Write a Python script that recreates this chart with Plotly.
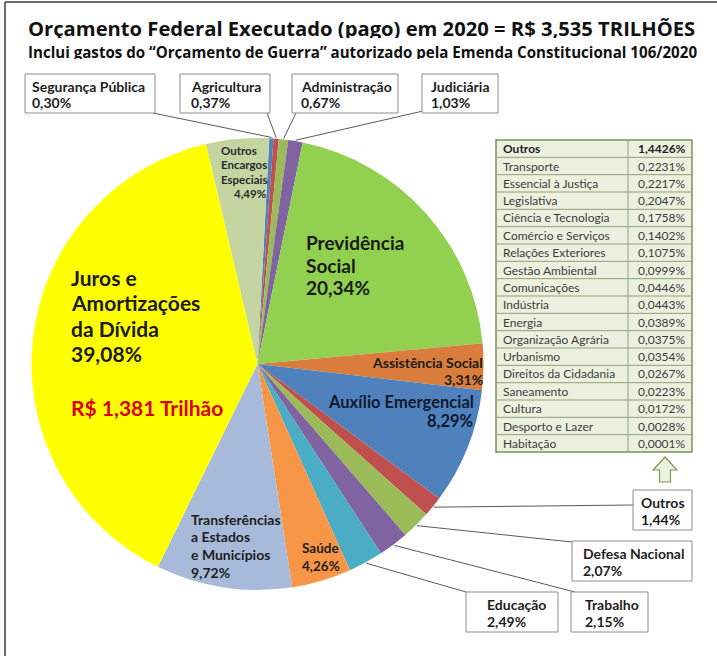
import math
import plotly.graph_objects as go

W, H = 717, 656
FONT = "Lato"
TITLE_FONT = "Open Sans"

# Federal budget 2020, share of total paid (%), clockwise from the top
categorias = [
    "Segurança Pública", "Agricultura", "Administração", "Judiciária",
    "Previdência Social", "Assistência Social", "Auxílio Emergencial", "Outros",
    "Defesa Nacional", "Trabalho", "Educação", "Saúde",
    "Transferências a Estados e Municípios", "Juros e Amortizações da Dívida",
    "Outros Encargos Especiais",
]
percentuais = [0.30, 0.37, 0.67, 1.03, 20.34, 3.31, 8.29, 1.44,
               2.07, 2.15, 2.49, 4.26, 9.72, 39.08, 4.49]
cores = ["#4F81BD", "#C0504D", "#9BBB59", "#8064A2", "#92D050", "#DA7D3C",
         "#4F81BD", "#C0504D", "#9BBB59", "#8064A2", "#4BACC6", "#F79646",
         "#A7BADA", "#FFFF00", "#C4D5A2"]

# Breakdown of the "Outros" group (%)
outros_total = 1.4426
outros_nomes = ["Transporte", "Essencial à Justiça", "Legislativa",
                "Ciência e Tecnologia", "Comércio e Serviços", "Relações Exteriores",
                "Gestão Ambiental", "Comunicações", "Indústria", "Energia",
                "Organização Agrária", "Urbanismo", "Direitos da Cidadania",
                "Saneamento", "Cultura", "Desporto e Lazer", "Habitação"]
outros_pct = [0.2231, 0.2217, 0.2047, 0.1758, 0.1402, 0.1075, 0.0999, 0.0446,
              0.0443, 0.0389, 0.0375, 0.0354, 0.0267, 0.0223, 0.0172, 0.0028, 0.0001]

total_orcamento = "3,535"
juros_valor = "1,381"


def br(v, d=2):
    return f"{v:.{d}f}".replace(".", ",") + "%"


def px(x):
    return x / W


def py(y):
    return 1 - y / H


# pie geometry (pixels)
CX, CY, R = 257.5, 364.0, 226.0
ROT = 3.0

fig = go.Figure()
fig.add_trace(go.Pie(
    labels=categorias, values=percentuais, sort=False, direction="clockwise",
    rotation=ROT, marker=dict(colors=cores, line=dict(width=0)),
    textinfo="none", hoverinfo="skip", showlegend=False,
    domain=dict(x=[px(CX - R), px(CX + R)], y=[py(CY + R), py(CY - R)]),
))

shapes = []
annotations = []


def text(x, y, s, size, color="#1a1a1a", anchor="left", bold=True, family=FONT, height=None):
    a = dict(
        x=px(x), y=py(y), xref="paper", yref="paper", showarrow=False,
        text=f"<b>{s}</b>" if bold else s, xanchor=anchor, yanchor="middle",
        font=dict(family=family, size=size, color=color))
    if height:
        a["height"] = height
    annotations.append(a)


def line(x0, y0, x1, y1, color="#555555", width=1):
    shapes.append(dict(type="line", xref="paper", yref="paper",
                       x0=px(x0), y0=py(y0), x1=px(x1), y1=py(y1),
                       line=dict(color=color, width=width)))


def rect(x0, y0, x1, y1, fill, color, width=1):
    shapes.append(dict(type="rect", xref="paper", yref="paper",
                       x0=px(x0), y0=py(y1), x1=px(x1), y1=py(y0),
                       fillcolor=fill, line=dict(color=color, width=width)))


# frame
line(5, 2, W + 2, 2, color="#6b6b6b", width=2)
line(5, 2, 5, H + 2, color="#6b6b6b", width=2)

# titles
text(26, 28, f"Orçamento Federal Executado (pago) em 2020 = R$ {total_orcamento} TRILHÕES",
     20.2, "#111111", family=TITLE_FONT, height=20)
text(26, 52, "Inclui gastos do “Orçamento de Guerra” autorizado pela Emenda Constitucional 106/2020",
     15.1, "#111111", family=TITLE_FONT, height=15)

# table of the "Outros" group
TX0, TX1, TXS, TY0, TY1 = 496, 692, 628, 140, 452
tab_nomes = ["Outros"] + outros_nomes
tab_vals = [br(outros_total, 4)] + [br(v, 4) for v in outros_pct]
row_h = (TY1 - TY0) / len(tab_nomes)
rect(TX0, TY0, TX1, TY1, "#EBF1DE", "#7C9158", 1.5)
for i in range(1, len(tab_nomes)):
    line(TX0, TY0 + i * row_h, TX1, TY0 + i * row_h, color="#8F9F7C", width=1)
line(TXS, TY0, TXS, TY1, color="#8F9F7C", width=1)
for i, (n, v) in enumerate(zip(tab_nomes, tab_vals)):
    yc = TY0 + (i + 0.5) * row_h
    hdr = i == 0
    text(TX0 + 5, yc, n, 12, "#222222" if hdr else "#3c3c3c", bold=hdr)
    text(TXS + 8, yc, v, 12, "#222222" if hdr else "#3c3c3c", bold=hdr)

# slice mid-angle points on the rim
tot = sum(percentuais)
edge = {}
acc = 0.0
for nome, v in zip(categorias, percentuais):
    ang = math.radians(ROT + 360 * (acc + v / 2) / tot)
    edge[nome] = (CX + (R + 1) * math.sin(ang), CY - (R + 1) * math.cos(ang))
    acc += v

# callout boxes: (x0, y0, x1, y1), text x, leader start on box
callouts = {
    "Segurança Pública": ((25, 74, 155, 113), 30, (153, 113)),
    "Agricultura": ((180, 74, 270, 113), 189, (267, 113)),
    "Administração": ((292, 74, 398, 113), 299, (296, 113)),
    "Judiciária": ((422, 74, 498, 113), 429, (423, 111)),
    "Outros": ((633, 490, 692, 530), 639, (633, 505)),
    "Defesa Nacional": ((572, 541, 692, 581), 581, (572, 542)),
    "Trabalho": ((571, 592, 648, 632), 583, (575, 592)),
    "Educação": ((466, 592, 558, 632), 485, (466, 592)),
}
pct = dict(zip(categorias, percentuais))
for nome, ((x0, y0, x1, y1), tx, (lx, ly)) in callouts.items():
    ex, ey = edge[nome]
    line(lx, ly, ex, ey, color="#5a5a5a", width=1)
    rect(x0, y0, x1, y1, "white", "#8c8c8c", 1)
    text(tx, y0 + 12, nome, 14, "#1e1e1e")
    text(tx, y0 + 29, br(pct[nome]), 14, "#1e1e1e")

# arrow pointing from the "Outros" box to the table
shapes.append(dict(type="path", xref="paper", yref="paper",
                   path="M {} {} L {} {} L {} {} L {} {} L {} {} L {} {} L {} {} Z".format(
                       px(653), py(470), px(665), py(457), px(677), py(470),
                       px(670.5), py(470), px(670.5), py(482), px(659.5), py(482),
                       px(659.5), py(470)),
                   fillcolor="#EBF1DE", line=dict(color="#7F9A55", width=1.2)))

# labels inside the pie
for i, s in enumerate(["Juros e", "Amortizações", "da Dívida", br(pct["Juros e Amortizações da Dívida"])]):
    text(69, 277 + i * 25.6, s, 21)
text(69, 407, f"R$ {juros_valor} Trilhão", 21, "#D90000")

for i, s in enumerate(["Previdência", "Social", br(pct["Previdência Social"])]):
    text(304, 243 + i * 22.5, s, 19)

for i, s in enumerate(["Outros", "Encargos", "Especiais"]):
    text(219, 150 + i * 14.5, s, 11.5, "#2a2a2a")
text(268, 193, br(pct["Outros Encargos Especiais"]), 11.5, "#2a2a2a", anchor="right")

text(485, 362, "Assistência Social", 14, "#1a1a1a", anchor="right")
text(485, 379, br(pct["Assistência Social"]), 14, "#1a1a1a", anchor="right")

text(476, 402, "Auxílio Emergencial", 16.5, "#0f1a2e", anchor="right")
text(475, 421, br(pct["Auxílio Emergencial"]), 16.5, "#0f1a2e", anchor="right")

for i, s in enumerate(["Transferências", "a Estados", "e Municípios",
                       br(pct["Transferências a Estados e Municípios"])]):
    text(189, 519 + i * 17.7, s, 14, "#1e1e1e")

text(300, 548, "Saúde", 13.5, "#1e1e1e")
text(300, 566, br(pct["Saúde"]), 13.5, "#1e1e1e")

fig.update_layout(
    width=W, height=H, margin=dict(l=0, r=0, t=0, b=0),
    paper_bgcolor="white", plot_bgcolor="white",
    shapes=shapes, annotations=annotations,
)
fig.write_html("out.html")
